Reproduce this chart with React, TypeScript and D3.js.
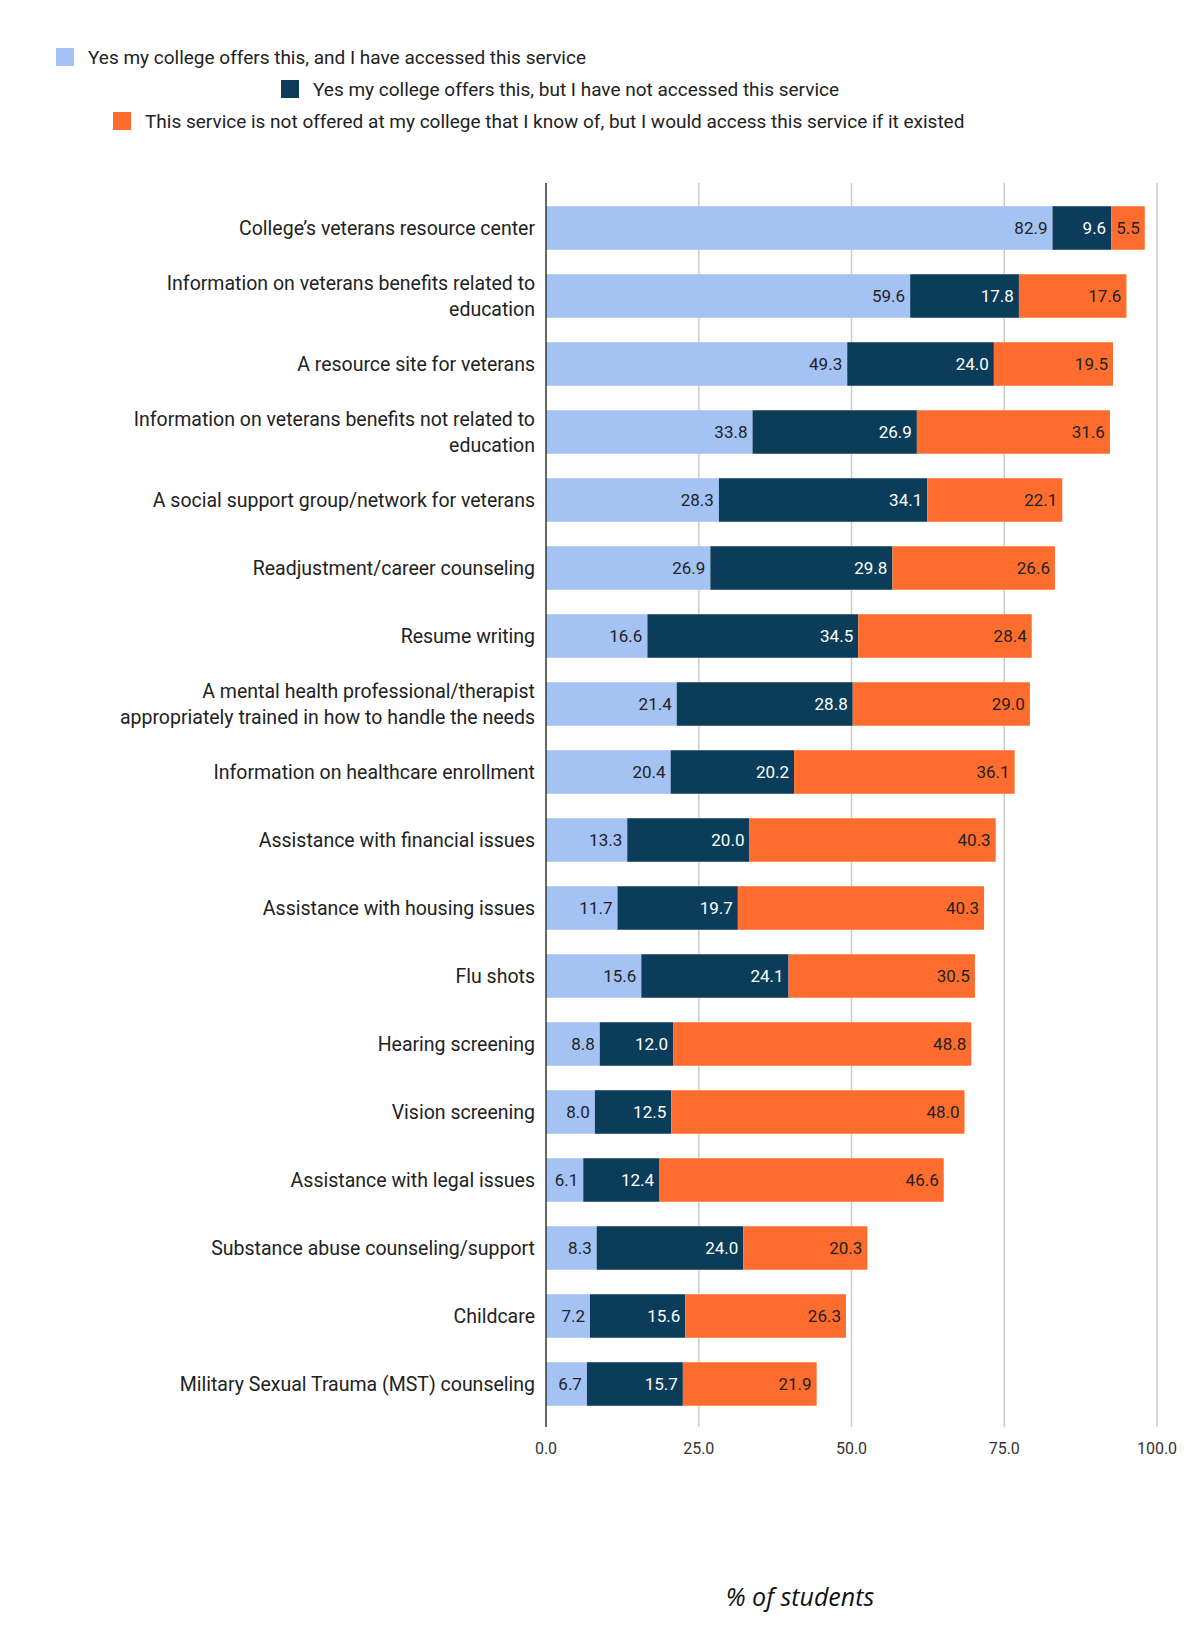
import React from "react";
import * as d3 from "d3";

const categories = [
  "College’s veterans resource center",
  "Information on veterans benefits related to|education",
  "A resource site for veterans",
  "Information on veterans benefits not related to|education",
  "A social support group/network for veterans",
  "Readjustment/career counseling",
  "Resume writing",
  "A mental health professional/therapist|appropriately trained in how to handle the needs",
  "Information on healthcare enrollment",
  "Assistance with financial issues",
  "Assistance with housing issues",
  "Flu shots",
  "Hearing screening",
  "Vision screening",
  "Assistance with legal issues",
  "Substance abuse counseling/support",
  "Childcare",
  "Military Sexual Trauma (MST) counseling",
];
const accessed = [82.9, 59.6, 49.3, 33.8, 28.3, 26.9, 16.6, 21.4, 20.4, 13.3, 11.7, 15.6, 8.8, 8.0, 6.1, 8.3, 7.2, 6.7];
const notAccessed = [9.6, 17.8, 24.0, 26.9, 34.1, 29.8, 34.5, 28.8, 20.2, 20.0, 19.7, 24.1, 12.0, 12.5, 12.4, 24.0, 15.6, 15.7];
const wouldAccess = [5.5, 17.6, 19.5, 31.6, 22.1, 26.6, 28.4, 29.0, 36.1, 40.3, 40.3, 30.5, 48.8, 48.0, 46.6, 20.3, 26.3, 21.9];
const seriesNames = [
  "Yes my college offers this, and I have accessed this service",
  "Yes my college offers this, but I have not accessed this service",
  "This service is not offered at my college that I know of, but I would access this service if it existed",
];
const colors = ["#a4c2f4", "#0b3d5b", "#ff6d2e"];
const textColors = ["#222", "#fff", "#222"];
const ticks = [0, 25, 50, 75, 100];

export default function App() {
  const W = 1200, H = 1636;
  const x = d3.scaleLinear().domain([0, 100]).range([546, 1157]);
  const y = d3.scaleBand().domain(categories).range([194, 1418]).paddingInner(0.36).paddingOuter(0.18);
  const series = [accessed, notAccessed, wouldAccess];
  const font = "Roboto, 'Liberation Sans', Arial, sans-serif";
  const legendPos = [
    { x: 65, y: 57 },
    { x: 290, y: 89 },
    { x: 122, y: 121 },
  ];
  return (
    <svg width={W} height={H} style={{ display: "block", margin: -8 }} fontFamily={font}>
      <rect width={W} height={H} fill="#fff" />
      {seriesNames.map((n, i) => (
        <g key={n}>
          <rect x={legendPos[i].x - 9} y={legendPos[i].y - 9} width={18} height={18} fill={colors[i]} />
          <text x={legendPos[i].x + 23} y={legendPos[i].y} dy="0.35em" fontSize={19} fill="#222">{n}</text>
        </g>
      ))}
      {ticks.map((t) => (
        <g key={t}>
          {t > 0 && <line x1={x(t)} x2={x(t)} y1={183} y2={1427} stroke="#ccc" strokeWidth={1.5} />}
          <text x={x(t)} y={1448} dy="0.35em" textAnchor="middle" fontSize={16} fill="#333">{t.toFixed(1)}</text>
        </g>
      ))}
      {categories.map((c, i) => {
        let acc = 0;
        const yc = y(c)! + y.bandwidth() / 2;
        const lines = c.split("|");
        return (
          <g key={c}>
            {lines.map((l, k) => (
              <text key={k} x={535} y={yc + (k - (lines.length - 1) / 2) * 26} dy="0.35em" textAnchor="end" fontSize={19.5} fill="#222">{l}</text>
            ))}
            {series.map((s, j) => {
              const x0 = x(acc);
              acc += s[i];
              const x1 = x(acc);
              return (
                <g key={j}>
                  <rect x={x0} y={y(c)} width={x1 - x0} height={y.bandwidth()} fill={colors[j]} />
                  <text x={x1 - 5} y={yc} dy="0.35em" textAnchor="end" fontSize={17} fill={textColors[j]}>{s[i].toFixed(1)}</text>
                </g>
              );
            })}
          </g>
        );
      })}
      <line x1={x(0)} x2={x(0)} y1={183} y2={1427} stroke="#333" strokeWidth={1.5} />
      <text x={800} y={1597} dy="0.35em" textAnchor="middle" fontSize={25} fontStyle="italic" fill="#111" fontFamily="'Open Sans', sans-serif">% of students</text>
    </svg>
  );
}
